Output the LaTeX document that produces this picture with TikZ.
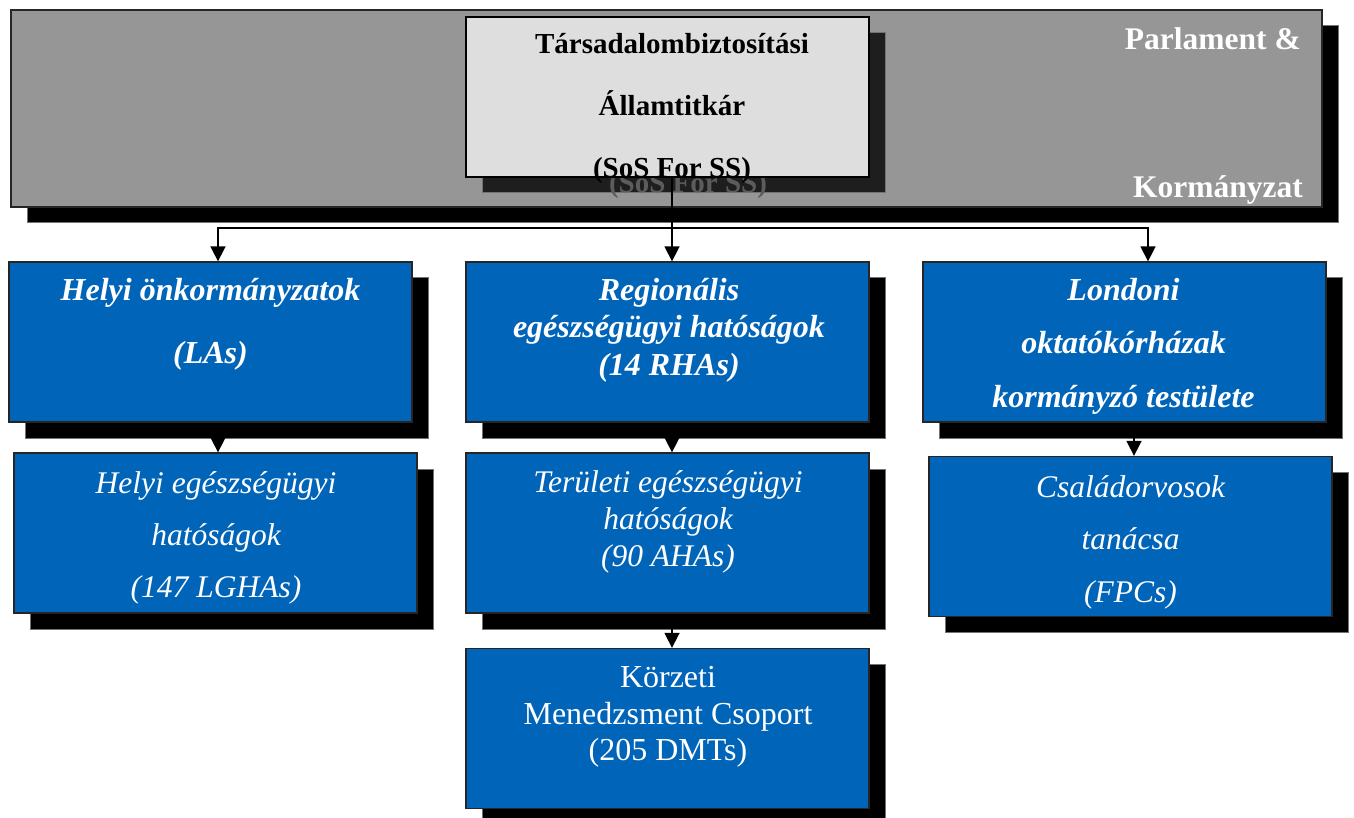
\documentclass[tikz,border=0pt]{standalone}
\usepackage{fontspec}
\setmainfont{Liberation Serif}
\usetikzlibrary{shadows,arrows.meta}
\definecolor{nhsblue}{RGB}{0,100,184}
\definecolor{panelgrey}{RGB}{150,150,150}
\definecolor{lightpanel}{RGB}{222,222,222}
\definecolor{darkshadow}{RGB}{30,30,30}
\definecolor{ghosttext}{RGB}{92,92,92}

\begin{document}
\begin{tikzpicture}[x=1pt,y=-1pt,
  hardshadow/.style={drop shadow={shadow xshift=16pt, shadow yshift=-16pt,
      fill=#1, draw=black!55, line width=1pt, opacity=1}},
  orgbox/.style={rectangle, inner sep=0pt, line width=1.3pt, draw=black!85,
      fill=nhsblue, minimum width=403pt, minimum height=160pt, hardshadow=black},
  lbl/.style={text=white, align=center, inner sep=0pt},
  bolditalic/.style={font=\fontsize{32}{#1}\selectfont\bfseries\itshape},
  italic/.style={font=\fontsize{31.5}{#1}\selectfont\itshape},
  upright/.style={font=\fontsize{32}{#1}\selectfont},
  sosfont/.style={font=\fontsize{29}{62}\selectfont\bfseries},
  arr/.style={line width=1.6pt, -{Triangle[length=15pt,width=15pt]}},
  link/.style={line width=1.6pt}
]
\useasboundingbox (0,0) rectangle (1354,818);

% government band
\node[rectangle, inner sep=0pt, line width=1.3pt, draw=black!85, fill=panelgrey,
      minimum width=1311pt, minimum height=197pt, hardshadow=black]
      (band) at (666.5,108.5) {};
\node[anchor=base east, inner sep=0pt, text=white,
      font=\fontsize{31.5}{37}\selectfont\bfseries] (parl) at (1301,50) {Parlament \&};
\node[anchor=base east, inner sep=0pt, text=white,
      font=\fontsize{31.5}{37}\selectfont\bfseries] (korm) at (1303,198) {Kormányzat};

% secretary of state box; its shadow shows the last text line again
\fill[darkshadow, draw=black!55, line width=1pt] (482,33) rectangle (885,193);
\node[anchor=base, inner sep=0pt, text=ghosttext, sosfont] (sosghost) at (688,193)
      {(SoS For SS)};
\node[rectangle, inner sep=0pt, line width=1.8pt, draw=black, fill=lightpanel,
      minimum width=403pt, minimum height=160pt] (sos) at (667.5,97) {};
\node[align=center, inner sep=0pt, text=black, sosfont] (sostext) at (672,108.5)
      {Társadalombiztosítási\\Államtitkár\\(SoS For SS)};

% first level
\node[orgbox] (la) at (210.5,342) {};
\node[orgbox] (rha) at (667.5,342) {};
\node[orgbox] (lth) at (1124.5,342) {};
% second level
\node[orgbox] (lgha) at (215.5,533) {};
\node[orgbox] (aha) at (667.5,533) {};
\node[orgbox] (fpc) at (1130.5,536.5) {};
% third level
\node[orgbox] (dmt) at (667.5,728.5) {};

\node[lbl, bolditalic=63] (la-t) at (210.5,324.2) {Helyi önkormányzatok\\(LAs)};
\node[lbl, bolditalic=37.5] (rha-t) at (669,330.2)
      {Regionális\\egészségügyi hatóságok\\(14 RHAs)};
\node[lbl, bolditalic=53.5] (lth-t) at (1123.5,346.2)
      {Londoni\\oktatókórházak\\kormányzó testülete};
\node[lbl, italic=52] (lgha-t) at (216,537.7)
      {Helyi egészségügyi\\hatóságok\\(147 LGHAs)};
\node[lbl, italic=37] (aha-t) at (668,522)
      {Területi egészségügyi\\hatóságok\\(90 AHAs)};
\node[lbl, italic=52.5] (fpc-t) at (1130.5,542)
      {Családorvosok\\tanácsa\\(FPCs)};
\node[lbl, upright=36.5] (dmt-t) at (668,717.3)
      {Körzeti\\Menedzsment Csoport\\(205 DMTs)};

% connectors
\coordinate (hub) at (672,228);
\coordinate (jl) at (218,228);
\coordinate (jr) at (1148,228);
\coordinate (jr2) at (1134,440);
\draw[link] (sos.south -| hub) -- (hub);
\draw[arr] (hub) -- (hub |- rha.north);
\draw[arr] (hub) -- (jl) -- (jl |- la.north);
\draw[arr] (hub) -- (jr) -- (jr |- lth.north);
\draw[arr] (jl |- la.south) -- (jl |- lgha.north);
\draw[arr] (hub |- rha.south) -- (hub |- aha.north);
\draw[arr] (hub |- aha.south) -- (hub |- dmt.north);
\draw[arr] (jr2 |- lth.south) -- (jr2 |- fpc.north);
\end{tikzpicture}
\end{document}
